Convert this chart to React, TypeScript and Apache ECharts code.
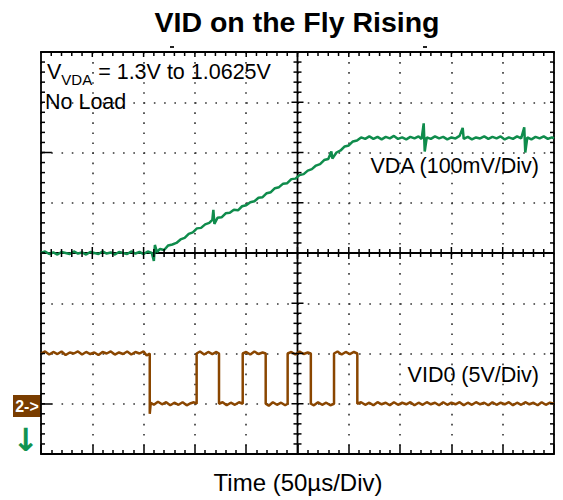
import React, { useEffect, useRef } from "react";
import * as echarts from "echarts";

// Time axis (µs), 50 µs per division, 10 divisions
const timeMin = 0;
const timeMax = 500;
const timeStep = 50;
const timeMinorSplit = 5;
// Vertical screen divisions, 8 in total
const divMin = 0;
const divMax = 8;
const divStep = 1;
const divMinorSplit = 5;

// VDA trace (time µs, screen division) – 100 mV/Div
const vdaTrace: [number, number][] = [
  [0, 4.0], [4, 4.03], [8, 3.98], [12, 4.01], [16, 3.97], [20, 4.02], [24, 4.0], [28, 3.98],
  [32, 4.03], [36, 3.99], [40, 4.01], [44, 3.97], [48, 4.02], [52, 4.0], [56, 3.98], [60, 4.03],
  [64, 3.99], [68, 4.01], [72, 3.97], [76, 4.02], [80, 4.0], [84, 3.98], [88, 4.03], [92, 3.99],
  [96, 4.02], [100, 3.98], [104, 4.03], [108, 4.0], [110, 3.84], [111, 4.16], [113, 4.02],
  [116, 4.08], [120, 4.06], [124, 4.15], [128, 4.17], [132, 4.2], [136, 4.27], [140, 4.3],
  [144, 4.38], [148, 4.41], [152, 4.49], [156, 4.5], [160, 4.57], [164, 4.6], [167, 4.66],
  [168, 4.86], [169, 4.58], [172, 4.7], [176, 4.71], [180, 4.79], [184, 4.8], [188, 4.86],
  [192, 4.85], [196, 4.93], [200, 4.95], [204, 5.01], [208, 5.03], [212, 5.1], [216, 5.11],
  [220, 5.19], [224, 5.21], [228, 5.29], [232, 5.31], [236, 5.38], [240, 5.39], [244, 5.47],
  [248, 5.48], [252, 5.55], [256, 5.57], [260, 5.64], [264, 5.67], [268, 5.74], [272, 5.77],
  [276, 5.85], [280, 5.87], [283, 6.02], [284, 5.88], [288, 6.0], [292, 6.04], [296, 6.12],
  [300, 6.14], [304, 6.22], [308, 6.24], [312, 6.3], [316, 6.27], [320, 6.32], [324, 6.27],
  [328, 6.31], [332, 6.26], [336, 6.31], [340, 6.28], [344, 6.33], [348, 6.27], [352, 6.3],
  [356, 6.26], [360, 6.31], [364, 6.28], [368, 6.32], [371, 6.27], [373, 6.58], [374, 6.02],
  [376, 6.3], [380, 6.27], [384, 6.32], [388, 6.28], [392, 6.31], [396, 6.26], [400, 6.3],
  [404, 6.28], [408, 6.33], [411, 6.49], [412, 6.27], [416, 6.31], [420, 6.26], [424, 6.3],
  [428, 6.28], [432, 6.32], [436, 6.27], [440, 6.31], [444, 6.28], [448, 6.32], [452, 6.26],
  [456, 6.3], [460, 6.27], [464, 6.32], [468, 6.28], [471, 6.5], [472, 6.0], [474, 6.3],
  [478, 6.26], [482, 6.31], [486, 6.28], [490, 6.32], [494, 6.27], [498, 6.3], [500, 6.28],
];

// VID0 trace (time µs, screen division) – 5 V/Div
const vid0Trace: [number, number][] = [
  [0, 2.0], [4, 2.04], [8, 1.98], [12, 2.03], [16, 1.99], [20, 2.04], [24, 1.97], [28, 2.02],
  [32, 2.0], [36, 2.04], [40, 1.98], [44, 2.03], [48, 1.99], [52, 2.02], [56, 1.97], [60, 2.03],
  [64, 2.0], [68, 2.04], [72, 1.98], [76, 2.02], [80, 1.99], [84, 2.04], [88, 1.98], [92, 2.03],
  [96, 2.0], [100, 2.04], [103, 1.96], [106, 2.0], [106, 0.8], [107, 1.02], [110, 0.98],
  [114, 1.04], [118, 0.99], [122, 1.03], [126, 0.97], [130, 1.02], [134, 0.98], [138, 1.03],
  [142, 0.97], [146, 1.01], [149, 1.03], [151.7, 1.0], [151.7, 2.0], [155, 2.04], [159, 1.98],
  [163, 2.03], [167, 1.99], [171, 2.03], [173.5, 2.0], [173.5, 1.0], [177, 1.03], [181, 0.97],
  [185, 1.02], [189, 0.98], [193, 1.03], [196.6, 1.0], [196.6, 2.0], [200, 2.03], [204, 1.98],
  [208, 2.04], [212, 1.99], [216, 2.02], [219, 2.0], [219, 1.0], [222, 0.96], [226, 1.03],
  [230, 0.98], [234, 1.02], [238, 0.97], [240.4, 1.0], [240.4, 2.0], [244, 2.03], [248, 1.98],
  [252, 2.04], [256, 1.99], [260, 2.02], [263, 2.0], [263, 1.0], [266, 0.97], [270, 1.03],
  [274, 0.98], [278, 1.02], [282, 0.97], [285.6, 1.0], [285.6, 2.0], [289, 2.04], [293, 1.98],
  [297, 2.03], [301, 1.99], [305, 2.03], [308.3, 2.0], [308.3, 1.0], [312, 1.03], [316, 0.98],
  [320, 1.02], [324, 0.97], [328, 1.03], [332, 0.99], [336, 1.02], [340, 0.97], [344, 1.03],
  [348, 0.98], [352, 1.02], [356, 0.99], [360, 1.03], [364, 0.97], [368, 1.02], [372, 0.98],
  [376, 1.03], [380, 0.99], [384, 1.02], [388, 0.97], [392, 1.03], [396, 0.98], [400, 1.02],
  [404, 0.99], [408, 1.03], [412, 0.97], [416, 1.02], [420, 0.98], [424, 1.03], [428, 0.99],
  [432, 1.02], [436, 0.97], [440, 1.03], [444, 0.98], [448, 1.02], [452, 0.99], [456, 1.03],
  [460, 0.97], [464, 1.02], [468, 0.98], [472, 1.03], [476, 0.99], [480, 1.02], [484, 0.97],
  [488, 1.03], [492, 0.98], [496, 1.02], [500, 1.0],
];

const titleText = "VID on the Fly Rising";
const xAxisTitle = "Time (50µs/Div)";
const vdaLabel = "VDA (100mV/Div)";
const vid0Label = "VID0 (5V/Div)";
const noteLine2 = "No Load";

const FONT = "'Liberation Sans', Arial, Helvetica, sans-serif";
const GREEN = "#0f8c4c";
const BROWN = "#8a4600";

const G = { left: 41, top: 52, width: 513, height: 402 };

const centerTime = (timeMin + timeMax) / 2;
const centerDiv = (divMin + divMax) / 2;

const TICK_W = 1.5;

const tick = (length: number, show = true) => ({
  show,
  inside: true,
  length,
  lineStyle: { color: "#000", width: TICK_W },
});
const minor = (length: number, splitNumber: number, show = true) => ({
  show,
  splitNumber,
  length,
  lineStyle: { color: "#000", width: TICK_W },
});
const axLine = () => ({ show: true, onZero: false, lineStyle: { color: "#000", width: 1.8 } });

function xAx(extra: any) {
  return {
    type: "value",
    min: timeMin,
    max: timeMax,
    interval: timeStep,
    axisLabel: { show: false },
    splitLine: { show: false },
    axisLine: axLine(),
    axisTick: tick(5),
    minorTick: minor(4, timeMinorSplit),
    ...extra,
  };
}
function yAx(extra: any) {
  return {
    type: "value",
    min: divMin,
    max: divMax,
    interval: divStep,
    axisLabel: { show: false },
    splitLine: { show: false },
    axisLine: axLine(),
    axisTick: tick(4, false),
    minorTick: minor(4, divMinorSplit, false),
    ...extra,
  };
}

function renderCross(_params: any, api: any) {
  const bl = api.coord([timeMin, divMin]);
  const tr = api.coord([timeMax, divMax]);
  const c = api.coord([centerTime, centerDiv]);
  return {
    type: "group",
    children: [
      { type: "line", shape: { x1: bl[0], y1: c[1], x2: tr[0], y2: c[1] }, style: { stroke: "#000", lineWidth: 1.8 } },
      { type: "line", shape: { x1: c[0], y1: tr[1], x2: c[0], y2: bl[1] }, style: { stroke: "#000", lineWidth: 1.8 } },
    ],
  };
}

const baseGraphic: any[] = [
  {
    type: "text",
    x: 297,
    y: 22,
    style: { text: titleText, font: `bold 28.5px ${FONT}`, fill: "#000", align: "center", verticalAlign: "middle" },
  },
  {
    type: "text",
    x: 47,
    y: 72,
    style: {
      text: "{a|V}{b|VDA}{a| = 1.3V to 1.0625V}",
      verticalAlign: "middle",
      rich: {
        a: { fontFamily: FONT, fontSize: 21.5, color: "#000", verticalAlign: "middle", lineHeight: 30 },
        b: { fontFamily: FONT, fontSize: 15, color: "#000", verticalAlign: "bottom", lineHeight: 20 },
      },
    },
  },
  {
    type: "text",
    x: 45,
    y: 102,
    style: { text: noteLine2, font: `21.5px ${FONT}`, fill: "#000", verticalAlign: "middle" },
  },
  {
    type: "text",
    x: 539,
    y: 166,
    style: { text: vdaLabel, font: `21.5px ${FONT}`, fill: "#000", align: "right", verticalAlign: "middle" },
  },
  {
    type: "text",
    x: 539,
    y: 375,
    style: { text: vid0Label, font: `21.5px ${FONT}`, fill: "#000", align: "right", verticalAlign: "middle" },
  },
  {
    type: "text",
    x: 298,
    y: 482,
    style: { text: xAxisTitle, font: `24px ${FONT}`, fill: "#000", align: "center", verticalAlign: "middle" },
  },
  { type: "rect", shape: { x: 13, y: 395, width: 28, height: 22 }, style: { fill: "#7a3d00" } },
  {
    type: "text",
    x: 27,
    y: 406,
    style: { text: "2->", font: `bold 16px ${FONT}`, fill: "#fff", align: "center", verticalAlign: "middle" },
  },
  {
    type: "text",
    x: 26,
    y: 440,
    style: { text: "↓", font: `bold 32px 'DejaVu Sans', sans-serif`, fill: "#119350", align: "center", verticalAlign: "middle" },
  },
  { type: "line", shape: { x1: 41, y1: 404, x2: 52, y2: 404 }, style: { stroke: "#000", lineWidth: 1.5 } },
  { type: "line", shape: { x1: 41, y1: 152.5, x2: 52, y2: 152.5 }, style: { stroke: "#000", lineWidth: 1.5 } },
  { type: "rect", shape: { x: 170, y: 46, width: 4, height: 2 }, style: { fill: "#222" } },
  { type: "rect", shape: { x: 423, y: 46, width: 4, height: 2 }, style: { fill: "#222" } },
];

export default function App() {
  const ref = useRef<HTMLDivElement>(null);
  useEffect(() => {
    if (!ref.current) return;
    const chart = echarts.init(ref.current, undefined, { renderer: "svg" });
    const option: any = {
      animation: false,
      backgroundColor: "#fff",
      grid: { ...G },
      xAxis: [
        xAx({
          position: "bottom",
          axisTick: tick(9),
          splitLine: { show: true, lineStyle: { color: "#333", width: 1.6, type: [1.6, 8.45] } },
        }),
        xAx({ position: "top", axisTick: tick(5, false), minorTick: minor(4, timeMinorSplit, false) }),
      ],
      yAxis: [
        yAx({
          position: "left",
          splitLine: { show: true, lineStyle: { color: "#333", width: 1.6, type: [1.6, 8.66] } },
        }),
        yAx({ position: "right" }),
      ],
      series: [
        {
          name: "centre",
          type: "custom",
          xAxisIndex: 0,
          yAxisIndex: 0,
          silent: true,
          z: 3,
          data: [[centerTime, centerDiv]],
          renderItem: renderCross,
        },
        {
          name: "VDA",
          type: "line",
          data: vdaTrace,
          xAxisIndex: 0,
          yAxisIndex: 0,
          showSymbol: false,
          symbol: "none",
          lineStyle: { color: GREEN, width: 2.5 },
          z: 5,
        },
        {
          name: "VID0",
          type: "line",
          data: vid0Trace,
          xAxisIndex: 0,
          yAxisIndex: 0,
          showSymbol: false,
          symbol: "none",
          lineStyle: { color: BROWN, width: 2.5 },
          z: 5,
        },
      ],
      graphic: baseGraphic,
    };
    chart.setOption(option);

    // Graticule ticks placed through the axes' own scale
    const px = (t: number, d: number) => chart.convertToPixel({ gridIndex: 0 }, [t, d]) as number[];
    const ticks: any[] = [];
    const seg = (x1: number, y1: number, x2: number, y2: number) =>
      ticks.push({
        type: "line",
        silent: true,
        z: 50,
        shape: { x1, y1, x2, y2 },
        style: { stroke: "#000", lineWidth: TICK_W },
      });
    const nx = ((timeMax - timeMin) / timeStep) * timeMinorSplit;
    for (let i = 1; i < nx; i++) {
      const t = timeMin + (i * timeStep) / timeMinorSplit;
      const major = i % timeMinorSplit === 0;
      const c = px(t, centerDiv);
      const top = px(t, divMax);
      const len = major ? 6 : 4;
      seg(c[0], c[1] - len, c[0], c[1] + len);
      seg(top[0], top[1], top[0], top[1] + (major ? 5 : 4));
    }
    const ny = ((divMax - divMin) / divStep) * divMinorSplit;
    for (let i = 1; i < ny; i++) {
      const d = divMin + (i * divStep) / divMinorSplit;
      const major = i % divMinorSplit === 0;
      const c = px(centerTime, d);
      const l = px(timeMin, d);
      const r = px(timeMax, d);
      const len = major ? 6 : 4;
      seg(c[0] - len, c[1], c[0] + len, c[1]);
      seg(l[0], l[1], l[0] + 4, l[1]);
      seg(r[0] - 4, r[1], r[0], r[1]);
    }
    chart.setOption({ graphic: [...baseGraphic, ...ticks] });

    return () => chart.dispose();
  }, []);
  return (
    <div
      ref={ref}
      style={{ position: "absolute", left: 0, top: 0, width: 563, height: 500, background: "#fff" }}
    />
  );
}
